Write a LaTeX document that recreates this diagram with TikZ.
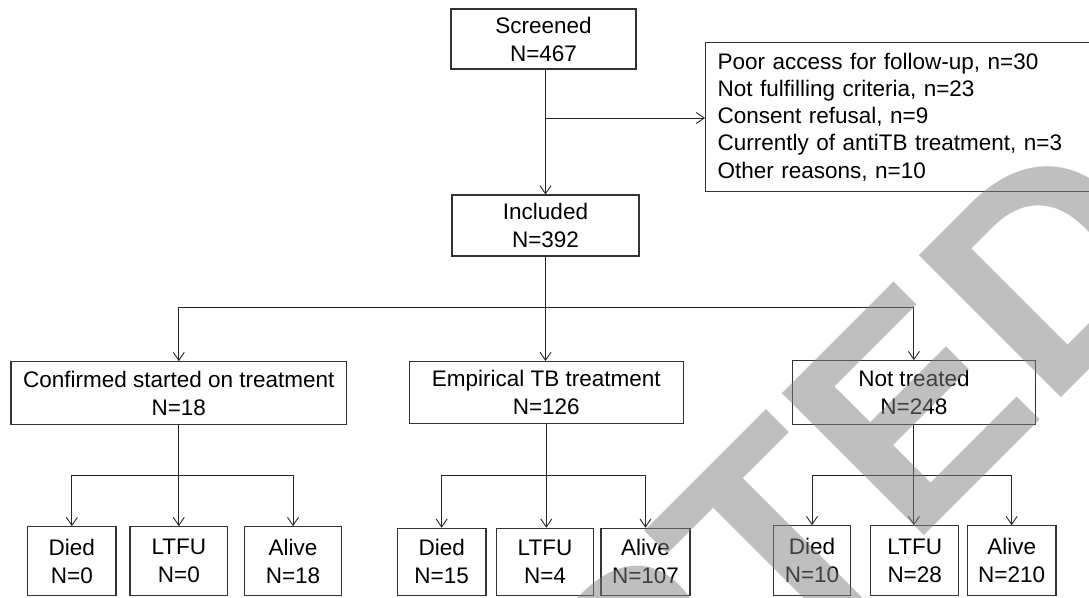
\documentclass[tikz,border=0pt]{standalone}
\usepackage{fontspec}
\setmainfont{Liberation Sans}
\usetikzlibrary{arrows.meta}
\begin{document}
\begin{tikzpicture}[x=1pt,y=-1pt,
  box/.style={draw=black!80, line width=1.1pt, inner sep=0pt, font=\fontsize{22.5}{28}\selectfont, align=center},
  conn/.style={draw=black!85, line width=0.9pt},
  arr/.style={conn, -{Straight Barb[length=8pt,width=11pt]}},
  wm/.style={font=\bfseries\fontsize{292}{300}\selectfont, text=black!50, inner sep=0pt, outer sep=0pt, rotate=45}
]
\useasboundingbox (0,0) rectangle (1089,597);
\begin{scope}
\clip (0,0) rectangle (1089,597);
% level 0/1
\node[box, minimum width=185pt, minimum height=60pt] (scr) at (543.5,39) {Screened\\N=467};
\node[box, anchor=north west, minimum height=149pt, text width=380pt, inner xsep=12pt, align=left, font=\fontsize{22.5}{27.2}\selectfont] (exc) at (705,42)
  {Poor access for follow-up, n=30\\Not fulfilling criteria, n=23\\Consent refusal, n=9\\Currently of antiTB treatment, n=3\\Other reasons, n=10};
\node[box, minimum width=187pt, minimum height=61pt] (inc) at (545.5,225.5) {Included\\N=392};
% level 2
\node[box, minimum width=335.7pt, minimum height=62.6pt] (con) at (178.8,393) {Confirmed started on treatment\\N=18};
\node[box, minimum width=273.5pt, minimum height=61.5pt] (emp) at (546.3,392.3) {Empirical TB treatment\\N=126};
\node[box, minimum width=242.3pt, minimum height=63.6pt] (not) at (913.9,392.5) {Not treated\\N=248};
% level 3
\node[box, minimum width=88.3pt, minimum height=68.8pt] (d1) at (71.85,561.1) {Died\\N=0};
\node[box, minimum width=97.7pt, minimum height=68.8pt] (l1) at (178.85,561.1) {LTFU\\N=0};
\node[box, minimum width=97.4pt, minimum height=68.8pt] (a1) at (293,561.1) {Alive\\N=18};
\node[box, minimum width=88.7pt, minimum height=67.2pt] (d2) at (441.65,561.9) {Died\\N=15};
\node[box, minimum width=96.6pt, minimum height=67.2pt] (l2) at (545,561.9) {LTFU\\N=4};
\node[box, minimum width=89pt, minimum height=67.2pt] (a2) at (645.5,561.9) {Alive\\N=107};
\node[box, minimum width=77.4pt, minimum height=69.8pt] (d3) at (812,560.6) {Died\\N=10};
\node[box, minimum width=88pt, minimum height=69.8pt] (l3) at (914.7,560.6) {LTFU\\N=28};
\node[box, minimum width=88.7pt, minimum height=69.8pt] (a3) at (1011.65,560.6) {Alive\\N=210};
% connectors
\coordinate (ex) at (0,118);
\coordinate (lev2) at (0,307.7);
\coordinate (lev3) at (0,475.7);
\draw[arr] (inc.north |- scr.south) -- (inc.north);
\draw[arr] (inc.north |- ex) -- (exc.west |- ex);
\draw[arr] (inc.south) -- (inc.south |- emp.north);
\draw[arr] (inc.south |- lev2) -| (con.north);
\draw[arr] (inc.south |- lev2) -| (not.north);
\draw[arr] (con.south) -- (con.south |- l1.north);
\draw[arr] (con.south |- lev3) -| (d1.north);
\draw[arr] (con.south |- lev3) -| (a1.north);
\draw[arr] (emp.south) -- (emp.south |- l2.north);
\draw[arr] (emp.south |- lev3) -| (d2.north);
\draw[arr] (emp.south |- lev3) -| (a2.north);
\draw[arr] (not.south) -- (not.south |- l3.north);
\draw[arr] (not.south |- lev3) -| (d3.north);
\draw[arr] (not.south |- lev3) -| (a3.north);
% watermark
\begin{scope}[transparency group, opacity=0.5]
\node[wm, anchor=base east] (wm1) at (784,675.5) {ACCEP};
\node[wm, anchor=base west] (wm2) at (784,675.5) {TED};
\end{scope}
\end{scope}
\end{tikzpicture}
\end{document}
